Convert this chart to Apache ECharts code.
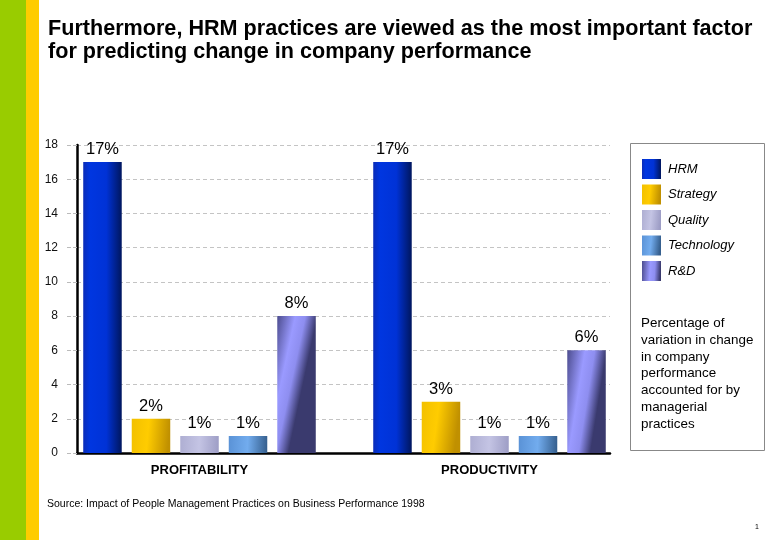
<!DOCTYPE html>
<html>
<head>
<meta charset="utf-8">
<script src="https://cdn.jsdelivr.net/npm/echarts@6/dist/echarts.min.js"></script>
<style>
html,body{margin:0;padding:0;background:#fff;}
#chart{width:780px;height:540px;}
</style>
</head>
<body>
<div id="chart"></div>
<script>
var categories = ['PROFITABILITY', 'PRODUCTIVITY'];
var seriesNames = ['HRM', 'Strategy', 'Quality', 'Technology', 'R&D'];
var hrm = [17, 17];
var strategy = [2, 3];
var quality = [1, 1];
var technology = [1, 1];
var rnd = [8, 6];
var yTicks = [0, 2, 4, 6, 8, 10, 12, 14, 16, 18];

function grad(x, y, x2, y2, stops) {
  return new echarts.graphic.LinearGradient(x, y, x2, y2, stops.map(function (s) {
    return { offset: s[0], color: s[1] };
  }));
}
var colors = [
  grad(0, 0, 1, 0, [[0, '#0a2cb8'], [0.18, '#0036e0'], [0.6, '#0032d6'], [1, '#00165e']]),
  grad(0, 0, 1, 0.1, [[0, '#f2c000'], [0.45, '#ffcc00'], [1, '#c09000']]),
  grad(0, 0, 1, 0.1, [[0, '#aeaed2'], [0.5, '#c4c4e4'], [1, '#9e9ec6']]),
  grad(0, 0, 1, 0.1, [[0, '#5a92d6'], [0.5, '#72acee'], [1, '#36608f']]),
  grad(0, 0, 1, 0.06, [[0, '#4c4c8e'], [0.45, '#9a9aff'], [0.7, '#8e8ef0'], [1, '#3a3a6e']])
];
var dataSets = [hrm, strategy, quality, technology, rnd];

var series = dataSets.map(function (d, i) {
  return {
    name: seriesNames[i],
    type: 'bar',
    xAxisIndex: 1,
    yAxisIndex: 1,
    data: d,
    barWidth: 38.5,
    barGap: '26%',
    itemStyle: { color: colors[i] },
    label: {
      show: true,
      position: 'top',
      distance: 4,
      formatter: '{c}%',
      fontFamily: 'Liberation Sans, Arial, sans-serif',
      fontSize: 16.5,
      color: '#000'
    }
  };
});

var chart = echarts.init(document.getElementById('chart'), null, { renderer: 'canvas' });
chart.setOption({
  animation: false,
  backgroundColor: '#fff',
  textStyle: { fontFamily: 'Liberation Sans, Arial, sans-serif' },
  title: {
    text: 'Furthermore, HRM practices are viewed as the most important factor\nfor predicting change in company performance',
    left: 43,
    top: 12,
    textStyle: { fontSize: 21.6, fontWeight: 'bold', color: '#000', lineHeight: 23.5, fontFamily: 'Liberation Sans, Arial, sans-serif' }
  },
  legend: {
    orient: 'vertical',
    left: 637,
    top: 154,
    itemWidth: 19,
    itemHeight: 20,
    itemGap: 5.5,
    icon: 'rect',
    data: seriesNames,
    textStyle: { fontSize: 13, fontStyle: 'italic', color: '#000', padding: [0, 0, 0, 2], fontFamily: 'Liberation Sans, Arial, sans-serif' }
  },
  grid: [
    { left: 77, top: 145, width: 533, height: 308 },
    { left: 54.5, top: 145, width: 580, height: 308 }
  ],
  xAxis: [
    {
      gridIndex: 0, type: 'category', data: categories,
      axisLine: { show: true, lineStyle: { color: '#000', width: 2.5 } },
      axisTick: { show: false }, axisLabel: { show: false }, splitLine: { show: false }
    },
    {
      gridIndex: 1, type: 'category', data: categories,
      axisLine: { show: false }, axisTick: { show: false },
      axisLabel: { show: true, margin: 11, fontSize: 13, fontWeight: 'bold', color: '#000' },
      splitLine: { show: false }
    }
  ],
  yAxis: [
    {
      gridIndex: 0, type: 'value', min: yTicks[0], max: yTicks[yTicks.length - 1], interval: 2,
      axisLine: { show: true, lineStyle: { color: '#000', width: 2.5 } },
      axisTick: { show: true, length: 10, lineStyle: { color: '#bbb', type: 'dashed' } },
      axisLabel: { show: true, margin: 19, fontSize: 12, color: '#111' },
      splitLine: { show: true, lineStyle: { color: '#c4c4c4', type: [4, 3], width: 1 } }
    },
    {
      gridIndex: 1, type: 'value', min: yTicks[0], max: yTicks[yTicks.length - 1], interval: 2, show: false
    }
  ],
  graphic: [
    { type: 'rect', shape: { x: 0, y: 0, width: 26, height: 540 }, style: { fill: '#99cc00' }, silent: true },
    { type: 'rect', shape: { x: 26, y: 0, width: 13, height: 540 }, style: { fill: '#ffcc00' }, silent: true },
    { type: 'rect', shape: { x: 630.5, y: 143.5, width: 134, height: 307 }, style: { fill: 'none', stroke: '#888', lineWidth: 1 }, silent: true, z: -1 },
    {
      type: 'text', left: 641, top: 315,
      style: {
        text: 'Percentage of\nvariation in change\nin company\nperformance\naccounted for by\nmanagerial\npractices',
        fontSize: 13.4, lineHeight: 16.8, fill: '#000', fontFamily: 'Liberation Sans, Arial, sans-serif'
      }
    },
    {
      type: 'text', left: 47, top: 499,
      style: { text: 'Source: Impact of People Management Practices on Business Performance 1998', fontSize: 10.5, fill: '#000', fontFamily: 'Liberation Sans, Arial, sans-serif' }
    },
    {
      type: 'text', left: 755, top: 524,
      style: { text: '1', fontSize: 7, fill: '#000', fontFamily: 'Liberation Sans, Arial, sans-serif' }
    }
  ],
  series: series
});
</script>
</body>
</html>
